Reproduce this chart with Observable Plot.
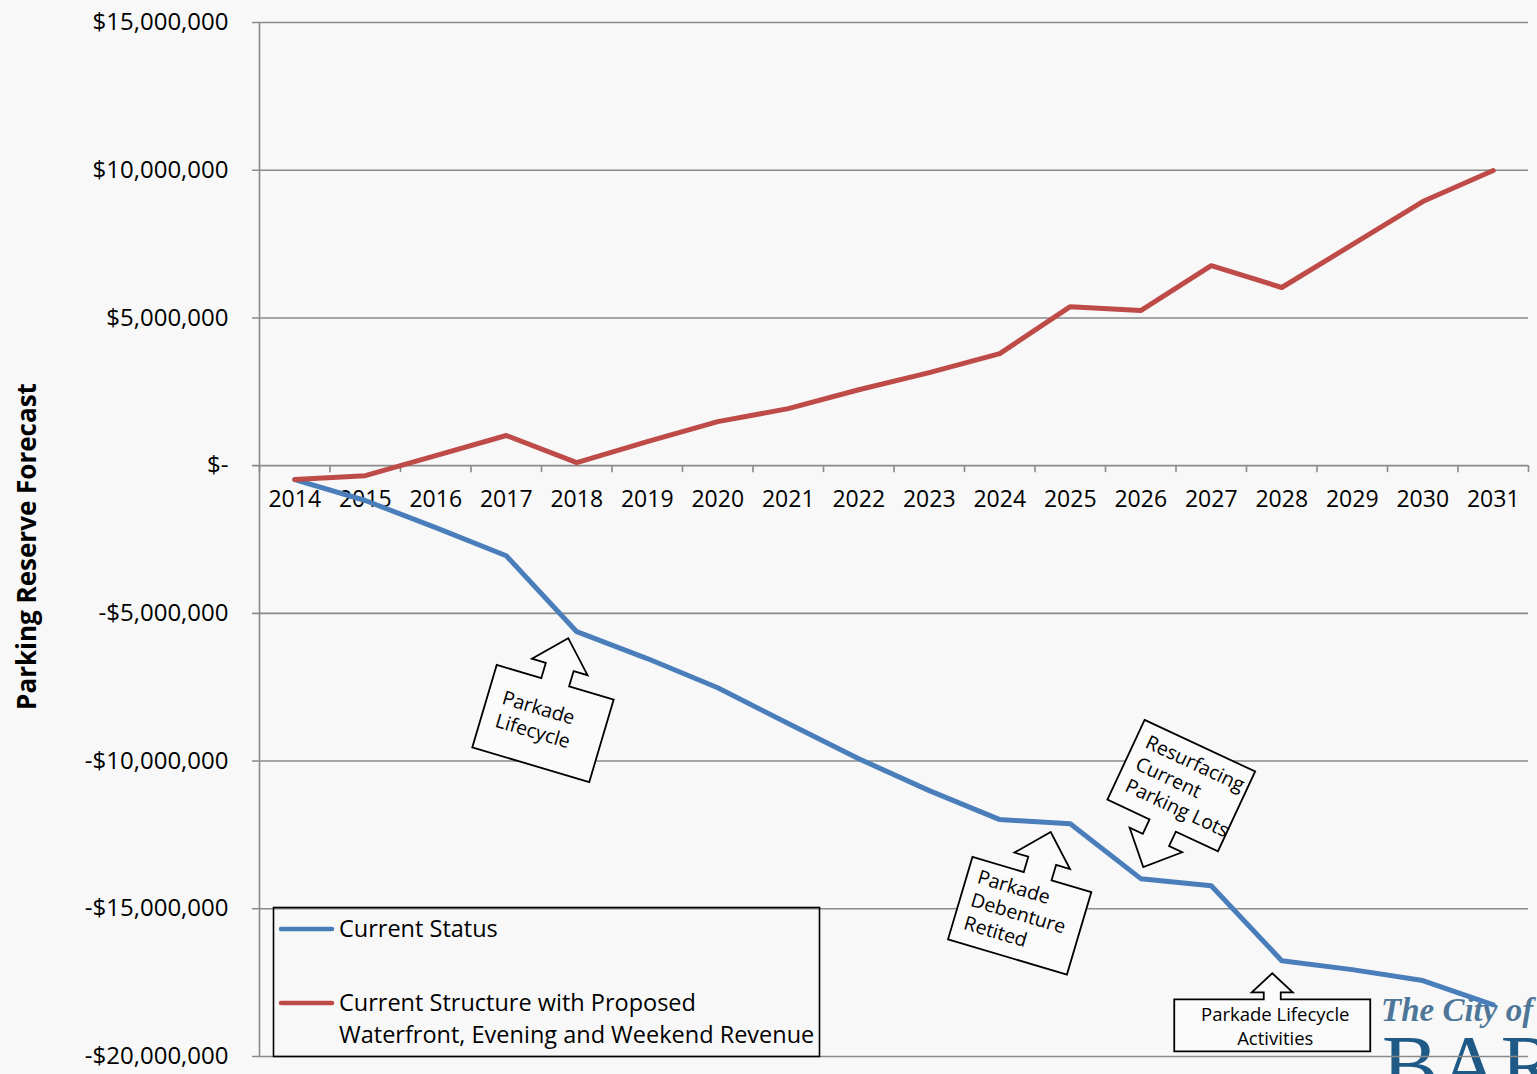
<!DOCTYPE html>
<html>
<head>
<meta charset="utf-8">
<script src="https://cdn.jsdelivr.net/npm/d3@7"></script>
<script src="https://cdn.jsdelivr.net/npm/@observablehq/plot@0.6"></script>
<style>
  html, body { margin: 0; padding: 0; background: #f8f8f8; }
  #chart { width: 1537px; height: 1074px; overflow: hidden; }
  #chart svg { display: block; }
</style>
</head>
<body>
<div id="chart"></div>
<script>
// ---------- data ----------
const years = [2014, 2015, 2016, 2017, 2018, 2019, 2020, 2021, 2022, 2023, 2024, 2025, 2026, 2027, 2028, 2029, 2030, 2031];
const currentStatus = [-470000, -1180000, -2100000, -3050000, -5620000, -6530000, -7520000, -8730000, -9920000, -11000000, -11980000, -12120000, -13980000, -14220000, -16760000, -17060000, -17430000, -18250000];
const proposedRevenue = [-470000, -340000, 340000, 1020000, 100000, 810000, 1490000, 1930000, 2570000, 3150000, 3790000, 5380000, 5250000, 6770000, 6030000, 7480000, 8940000, 9990000];
const yTicks = [-20000000, -15000000, -10000000, -5000000, 0, 5000000, 10000000, 15000000];
const seriesNames = ["Current Status", "Current Structure with Proposed Waterfront, Evening and Weekend Revenue"];
const legendLines = [["Current Status"], ["Current Structure with Proposed", "Waterfront, Evening and Weekend Revenue"]];
const seriesColors = ["#4a7ebb", "#be4b48"];
const yTitle = "Parking Reserve Forecast";
const logoLines = ["The City of", "BARRIE"];

// callouts: text lines, anchor year on the Current Status line, pixel nudges, rotation, arrow side
const callouts = [
  {lines: ["Parkade", "Lifecycle"], year: 2018, dx: -8, dy: 7, angle: 16.5, side: "top", w: 122, h: 86, align: "start", tipX: 0},
  {lines: ["Parkade", "Debenture", "Retited"], year: 2024.73, dx: 0, dy: 10, angle: 16.5, side: "top", w: 124, h: 86, align: "start", tipX: 6},
  {lines: ["Resurfacing", "Current", "Parking Lots"], year: 2026, dx: 3, dy: -11, angle: 25, side: "bottom", w: 122, h: 88, align: "start", tipX: 0},
  {lines: ["Parkade Lifecycle", "Activities"], year: 2028, dx: -9, dy: 13, angle: 0, side: "top", w: 196, h: 52, align: "middle", tipX: 0, small: true}
];

// ---------- build ----------
const FONT = "'Open Sans', sans-serif";
const rows = years.flatMap((yr, i) => [
  {year: yr, value: currentStatus[i], series: seriesNames[0]},
  {year: yr, value: proposedRevenue[i], series: seriesNames[1]}
]);
const bounds = years.map(y => y - 0.5).concat([years[years.length - 1] + 0.5]);
const fmt = d => d === 0 ? "$-" : (d < 0 ? "-$" : "$") + d3.format(",")(Math.abs(d));
const GRID = "#8a8a8a";

const plot = Plot.plot({
  width: 1537,
  height: 1074,
  marginLeft: 259,
  marginRight: 9,
  marginTop: 22,
  marginBottom: 18,
  style: {background: "transparent", fontFamily: FONT, fontSize: "22px", color: "#000", overflow: "hidden"},
  x: {type: "linear", domain: [bounds[0], bounds[bounds.length - 1]], axis: null},
  y: {domain: [yTicks[0], yTicks[yTicks.length - 1]], axis: null},
  color: {domain: seriesNames, range: seriesColors},
  marks: [
    Plot.ruleY(yTicks, {stroke: GRID, strokeWidth: 1.6, insetLeft: -7}),
    Plot.ruleX([bounds[0]], {stroke: GRID, strokeWidth: 1.6}),
    Plot.ruleX(bounds, {y1: 0, y2: 0, insetBottom: -7, stroke: GRID, strokeWidth: 1.6}),
    Plot.text(yTicks, {y: d => d, frameAnchor: "left", dx: -31, textAnchor: "end", text: fmt, fontSize: 24, fill: "#000"}),
    Plot.text(years, {x: d => d, y: 0, dy: 34, text: d => String(d), fontSize: 23, fill: "#000"}),
    Plot.text([yTitle], {frameAnchor: "left", dx: -232, dy: 7, rotate: -90, textAnchor: "middle", text: d => d, fontSize: 26, fontWeight: "bold", fill: "#000"}),
    Plot.line(rows, {x: "year", y: "value", stroke: "series", z: "series", strokeWidth: 5, strokeLinejoin: "round", strokeLinecap: "round"})
  ]
});

document.getElementById("chart").appendChild(plot);

// ---------- overlays (annotations, legend, logo) ----------
const svg = d3.select(plot);
const xs = plot.scale("x"), ys = plot.scale("y");
const X = v => xs.apply(v), Y = v => ys.apply(v);
const interpStatus = yr => {
  const i = Math.min(Math.floor(yr - years[0]), years.length - 2);
  const t = yr - years[i];
  return currentStatus[i] + (currentStatus[i + 1] - currentStatus[i]) * t;
};

function calloutPath(c) {
  const {w, h, side, tipX} = c;
  const s = c.small ? {sw: 17, sh: 7, hw: 41, hh: 19} : {sw: 29, sh: 16, hw: 58, hh: 30};
  const hx = w / 2, hy = h / 2;
  let pts;
  if (side === "top") {
    pts = [[-hx, -hy], [tipX - s.sw / 2, -hy], [tipX - s.sw / 2, -hy - s.sh], [tipX - s.hw / 2, -hy - s.sh],
      [tipX, -hy - s.sh - s.hh], [tipX + s.hw / 2, -hy - s.sh], [tipX + s.sw / 2, -hy - s.sh], [tipX + s.sw / 2, -hy],
      [hx, -hy], [hx, hy], [-hx, hy]];
    return {pts, tip: [tipX, -hy - s.sh - s.hh]};
  } else {
    pts = [[-hx, -hy], [hx, -hy], [hx, hy], [tipX + s.sw / 2, hy], [tipX + s.sw / 2, hy + s.sh], [tipX + s.hw / 2, hy + s.sh],
      [tipX, hy + s.sh + s.hh], [tipX - s.hw / 2, hy + s.sh], [tipX - s.sw / 2, hy + s.sh], [tipX - s.sw / 2, hy], [-hx, hy]];
    return {pts, tip: [tipX, hy + s.sh + s.hh]};
  }
}

// logo (partially cut off at the bottom-right corner) – drawn first so the line passes over it
const logo = svg.insert("g", ":first-child").attr("font-family", "'Liberation Serif', 'DejaVu Serif', serif").attr("text-anchor", "start");
logo.append("text").attr("x", 1381).attr("y", 1021).attr("font-size", 33).attr("font-style", "italic")
  .attr("font-weight", "bold").attr("fill", "#2f5f88").attr("fill-opacity", 0.85).text(logoLines[0]);
logo.append("text").attr("x", 1382).attr("y", 1094).attr("font-size", 84).attr("letter-spacing", 1)
  .attr("fill", "#1f5a86").text(logoLines[1]);

const ann = svg.append("g").attr("font-family", FONT);
callouts.forEach(c => {
  const tx = X(c.year) + c.dx, ty = Y(interpStatus(c.year)) + c.dy;
  const {pts, tip} = calloutPath(c);
  const a = c.angle * Math.PI / 180;
  const rx = tip[0] * Math.cos(a) - tip[1] * Math.sin(a);
  const ry = tip[0] * Math.sin(a) + tip[1] * Math.cos(a);
  const cx = tx - rx, cy = ty - ry;
  const g = ann.append("g").attr("transform", `translate(${cx},${cy}) rotate(${c.angle})`);
  g.append("path").attr("d", "M" + pts.map(p => p.join(",")).join("L") + "Z")
    .attr("fill", "#fbfbfb").attr("stroke", "#000").attr("stroke-width", 1.8).attr("stroke-linejoin", "miter");
  const lh = 24;
  const fs = c.small ? 18.5 : 19.5;
  const n = c.lines.length;
  const t = g.append("text").attr("font-size", fs).attr("fill", "#000")
    .attr("text-anchor", c.align === "middle" ? "middle" : "start");
  c.lines.forEach((ln, i) => {
    t.append("tspan")
      .attr("x", c.align === "middle" ? 3 : -c.w / 2 + (n === 2 ? 15 : 11))
      .attr("y", (i - (n - 1) / 2) * lh + (c.small ? 1 : -2))
      .attr("dy", "0.35em")
      .text(ln);
  });
});

// legend
const lg = svg.append("g").attr("font-family", FONT).attr("text-anchor", "start");
lg.append("rect").attr("x", 273.5).attr("y", 907.5).attr("width", 546).attr("height", 149)
  .attr("fill", "none").attr("stroke", "#000").attr("stroke-width", 1.6);
const legendY = [929, 1003];
legendLines.forEach((lines, i) => {
  lg.append("line").attr("x1", 281).attr("x2", 332).attr("y1", legendY[i]).attr("y2", legendY[i])
    .attr("stroke", seriesColors[i]).attr("stroke-width", 4.6).attr("stroke-linecap", "round");
  lines.forEach((ln, j) => {
    lg.append("text").attr("x", 339).attr("y", legendY[i] + j * 32).attr("dy", "0.35em")
      .attr("font-size", 23.5).attr("fill", "#000").text(ln);
  });
});
</script>
</body>
</html>
